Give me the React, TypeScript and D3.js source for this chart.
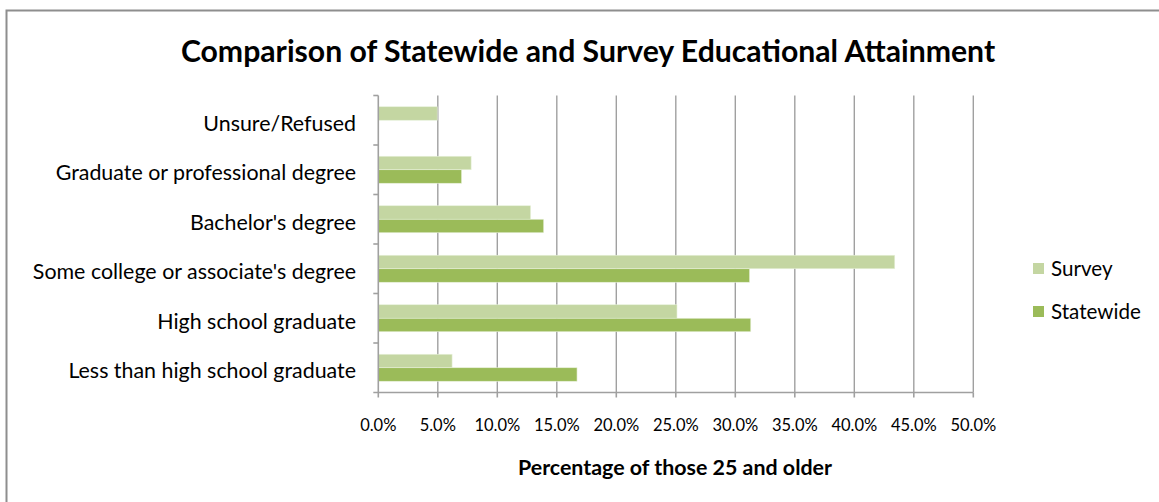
import React from "react";
import * as d3 from "d3";

const categories = [
  "Unsure/Refused",
  "Graduate or professional degree",
  "Bachelor's degree",
  "Some college or associate's degree",
  "High school graduate",
  "Less than high school graduate",
];
const surveyValues = [4.95, 7.8, 12.8, 43.4, 25.1, 6.2];
const statewideValues = [null, 7.0, 13.9, 31.2, 31.3, 16.7];
const seriesNames = ["Survey", "Statewide"];
const xTicks = [0, 5, 10, 15, 20, 25, 30, 35, 40, 45, 50];

const W = 1159;
const H = 502;
const FONT = "Lato, 'Open Sans', sans-serif";
const C_SURVEY = "#C4D6A2";
const C_STATE = "#9BBB59";
const GRID = "#A0A0A0";

export default function App() {
  const x = d3.scaleLinear().domain([0, 50]).range([378.3, 973.3]);
  const y = d3.scaleBand<string>().domain(categories).range([95.5, 392.5]);
  const inner = d3
    .scaleBand<string>()
    .domain(seriesNames)
    .range([0, 27])
    .paddingInner(0);
  const bw = inner.bandwidth();
  const off = (y.bandwidth() - 27) / 2;
  const [y0, y1] = y.range();
  const fmt = d3.format(".1f");

  const series = [
    { name: "Survey", values: surveyValues, color: C_SURVEY },
    { name: "Statewide", values: statewideValues, color: C_STATE },
  ];

  return (
    <svg
      width={W}
      height={H}
      style={{ position: "absolute", left: 0, top: 0, background: "#fff" }}
      fontFamily={FONT}
    >
      <rect x={6.5} y={10.5} width={1300} height={700} fill="#fff" stroke="#8E8E8E" strokeWidth={2} />
      <text x={588} y={62} textAnchor="middle" fontSize={30.2} fontWeight={700} fill="#000">
        Comparison of Statewide and Survey Educational Attainment
      </text>

      {xTicks.map((t) =>
        t === 0 ? null : (
          <line key={"g" + t} x1={x(t)} x2={x(t)} y1={y0} y2={y1} stroke={GRID} strokeWidth={1.4} />
        )
      )}

      {series.map((s) =>
        categories.map((c, i) => {
          const v = s.values[i];
          if (v == null) return null;
          return (
            <rect
              key={s.name + c}
              x={x(0)}
              y={(y(c) as number) + off + (inner(s.name) as number)}
              width={x(v) - x(0)}
              height={bw}
              fill={s.color}
              stroke="#E8F0DA"
              strokeWidth={0.6}
            />
          );
        })
      )}

      {/* axes */}
      <line x1={x(0)} x2={x(0)} y1={y0} y2={y1} stroke={GRID} strokeWidth={1.6} />
      <line x1={x(0) - 5} x2={x(50)} y1={y1} y2={y1} stroke={GRID} strokeWidth={1.6} />
      {categories.map((c, i) => (
        <line key={"yt" + i} x1={x(0) - 5} x2={x(0)} y1={y(c) as number} y2={y(c) as number} stroke={GRID} strokeWidth={1.6} />
      ))}
      {xTicks.map((t) => (
        <line key={"xt" + t} x1={x(t)} x2={x(t)} y1={y1} y2={y1 + 5} stroke={GRID} strokeWidth={1.6} />
      ))}

      {xTicks.map((t) => (
        <text key={"xl" + t} x={x(t)} y={431} textAnchor="middle" fontSize={16.5} fill="#000">
          {fmt(t) + "%"}
        </text>
      ))}

      {categories.map((c) => (
        <text
          key={"cl" + c}
          x={356}
          y={(y(c) as number) + y.bandwidth() / 2 + 10.5}
          textAnchor="end"
          fontSize={21.4}
          fill="#000"
        >
          {c}
        </text>
      ))}

      <text x={675} y={475} textAnchor="middle" fontSize={21.4} fontWeight={700} fill="#000">
        Percentage of those 25 and older
      </text>

      {series.map((s, i) => (
        <g key={"lg" + s.name} transform={`translate(1033, ${263 + i * 43})`}>
          <rect x={0} y={0} width={11} height={11} fill={s.color} />
          <text x={18} y={13} fontSize={20.6} fill="#000">
            {s.name}
          </text>
        </g>
      ))}
    </svg>
  );
}
